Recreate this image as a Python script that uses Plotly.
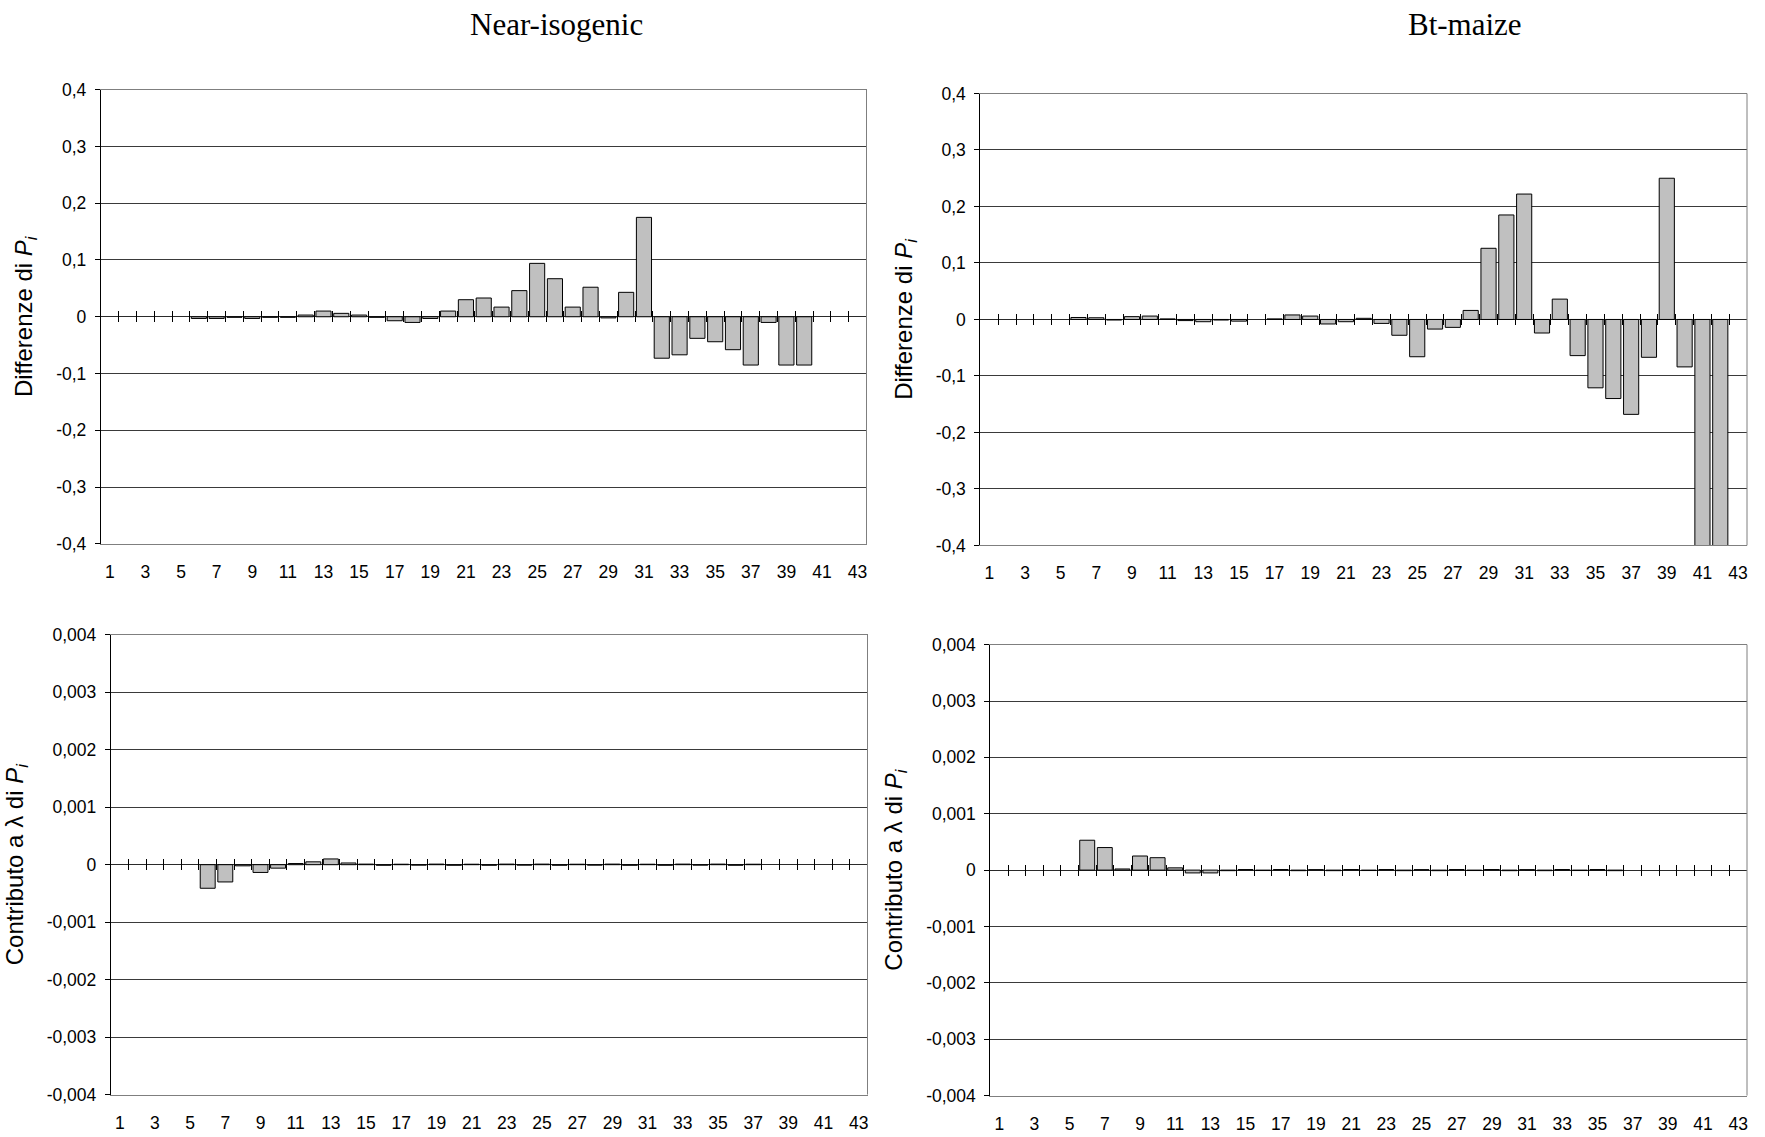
import plotly.graph_objects as go

# ---------------- data ----------------
CATEGORIES = list(range(1, 44))
X_TICK_VALUES = [1, 3, 5, 7, 9, 11, 13, 15, 17, 19, 21, 23, 25, 27, 29, 31, 33, 35, 37, 39, 41, 43]
X_TICK_LABELS = ["1", "3", "5", "7", "9", "11", "13", "15", "17", "19", "21", "23",
                 "25", "27", "29", "31", "33", "35", "37", "39", "41", "43"]

DIFF_TICKS = [-0.4, -0.3, -0.2, -0.1, 0, 0.1, 0.2, 0.3, 0.4]
DIFF_TICK_LABELS = ["-0,4", "-0,3", "-0,2", "-0,1", "0", "0,1", "0,2", "0,3", "0,4"]
CONTRIB_TICKS = [-0.004, -0.003, -0.002, -0.001, 0, 0.001, 0.002, 0.003, 0.004]
CONTRIB_TICK_LABELS = ["-0,004", "-0,003", "-0,002", "-0,001", "0", "0,001", "0,002", "0,003", "0,004"]

# Near-isogenic: differenze di P_i (categories 1..43)
NI_DIFF = [None, None, None, None, None,
           -0.003, -0.003, -0.001, -0.003, -0.001,
           -0.001, 0.003, 0.010, 0.006, 0.003,
           -0.001, -0.007, -0.010, -0.003, 0.010,
           0.030, 0.033, 0.017, 0.046, 0.094,
           0.067, 0.017, 0.052, -0.002, 0.043,
           0.175, -0.073, -0.067, -0.038, -0.044,
           -0.058, -0.085, -0.010, -0.085, -0.085,
           None, None, None]

# Bt-maize: differenze di P_i
BT_DIFF = [None, None, None, None, None,
           0.0035, 0.003, -0.001, 0.005, 0.006,
           0.001, -0.002, -0.004, -0.001, -0.003,
           None, 0.001, 0.008, 0.006, -0.008,
           -0.004, 0.002, -0.007, -0.028, -0.066,
           -0.017, -0.014, 0.016, 0.126, 0.185,
           0.222, -0.024, 0.036, -0.064, -0.121,
           -0.140, -0.168, -0.067, 0.250, -0.084,
           -0.450, -0.450, None]

# Near-isogenic: contributo a lambda di P_i
NI_CONTRIB = [None, None, None, None, None,
              -0.00041, -0.00030, -0.00002, -0.000135, -0.00006,
              0.00002, 0.00005, 0.00010, 0.00003, 0.00001,
              -0.00001, 0.000008, -0.000008, 0.00001, -0.00001,
              0.000008, -0.00001, 0.00001, -0.000008, 0.00001,
              -0.00001, 0.000008, -0.000008, 0.00001, -0.00001,
              0.000008, -0.00001, 0.00001, -0.000008, 0.00001,
              -0.00001, 0.000008, None, None, None,
              None, None, None]

# Bt-maize: contributo a lambda di P_i
BT_CONTRIB = [None, None, None, None, None,
              0.00053, 0.00040, 0.00002, 0.00025, 0.00022,
              0.00004, -0.00005, -0.00005, -0.00001, 0.00001,
              -0.000008, 0.00001, -0.00001, 0.000008, -0.00001,
              0.00001, -0.000008, 0.00001, -0.00001, 0.000008,
              -0.00001, 0.00001, -0.000008, 0.00001, -0.00001,
              0.000008, -0.00001, 0.00001, -0.000008, 0.00001,
              -0.00001, None, None, None, None,
              None, None, None]

COLUMN_TITLES = ["Near-isogenic", "Bt-maize"]
DIFF_TITLE = "Differenze di <i>P<sub>i</sub></i>"
CONTRIB_TITLE = "Contributo a λ di <i>P<sub>i</sub></i>"

# ---------------- figure ----------------
W, H = 1765, 1137
SANS = "Liberation Sans, Arial, sans-serif"
SERIF = "Liberation Serif, Times New Roman, serif"

panels = [
    dict(values=NI_DIFF, ticks=DIFF_TICKS, labels=DIFF_TICK_LABELS, rng=[-0.4, 0.4],
         title=DIFF_TITLE, xd=[101, 867], yd=[81, 543.5]),
    dict(values=BT_DIFF, ticks=DIFF_TICKS, labels=DIFF_TICK_LABELS, rng=[-0.4, 0.4],
         title=DIFF_TITLE, xd=[981, 1748], yd=[85, 545]),
    dict(values=NI_CONTRIB, ticks=CONTRIB_TICKS, labels=CONTRIB_TICK_LABELS, rng=[-0.004, 0.004],
         title=CONTRIB_TITLE, xd=[111, 868], yd=[636, 1104]),
    dict(values=BT_CONTRIB, ticks=CONTRIB_TICKS, labels=CONTRIB_TICK_LABELS, rng=[-0.004, 0.004],
         title=CONTRIB_TITLE, xd=[991, 1748], yd=[646, 1105]),
]


def ax_id(n):
    return "" if n == 1 else str(n)


fig = go.Figure()
layout = dict(
    width=W, height=H,
    margin=dict(l=0, r=0, t=0, b=0),
    paper_bgcolor="white", plot_bgcolor="white",
    showlegend=False, bargap=0.15,
    font=dict(family=SANS, size=17, color="black"),
    shapes=[], annotations=[],
)

for i, p in enumerate(panels, start=1):
    xdom = [p["xd"][0] / W, p["xd"][1] / W]
    ydom = [1 - p["yd"][1] / H, 1 - p["yd"][0] / H]
    xa, ya = "x" + ax_id(i), "y" + ax_id(i)
    tx = "x" + ax_id(i + 4)
    fig.add_trace(go.Bar(
        x=CATEGORIES, y=p["values"], xaxis=xa, yaxis=ya,
        marker=dict(color="#C0C0C0", line=dict(color="black", width=1)),
        hoverinfo="x+y",
    ))
    # invisible helper so the tick-mark axis at y=0 is drawn
    fig.add_trace(go.Scatter(
        x=[str(c) for c in CATEGORIES], y=p["values"], xaxis=tx, yaxis=ya,
        mode="markers", marker=dict(opacity=0, size=1), hoverinfo="skip",
    ))
    layout["xaxis" + ax_id(i)] = dict(
        domain=xdom, anchor=ya, range=[0.5, 43.5], type="linear",
        tickmode="array", tickvals=X_TICK_VALUES, ticktext=X_TICK_LABELS,
        showgrid=False, zeroline=False, showline=True, mirror=True,
        linecolor="#7f7f7f", linewidth=1, ticks="", ticklabelstandoff=12,
        tickfont=dict(family=SANS, size=17.5, color="black"),
    )
    layout["yaxis" + ax_id(i)] = dict(
        domain=ydom, anchor=xa, range=p["rng"],
        tickmode="array", tickvals=p["ticks"], ticktext=p["labels"],
        showgrid=True, gridcolor="#3a3a3a", gridwidth=1,
        zeroline=True, zerolinecolor="#2a2a2a", zerolinewidth=1,
        showline=True, linecolor="black", linewidth=1.3,
        ticks="outside", ticklen=5, tickcolor="black", ticklabelstandoff=5,
        tickfont=dict(family=SANS, size=17.5, color="black"),
        title=dict(text=p["title"], font=dict(family=SANS, size=24, color="black"),
                   standoff=16),
    )
    ymid = (ydom[0] + ydom[1]) / 2
    layout["xaxis" + ax_id(i + 4)] = dict(
        overlaying=xa, anchor="free", position=ymid - 5.5 / H, type="category",
        range=[-0.5, 42.5], tickmode="linear", dtick=1,
        tickson="boundaries", ticks="inside", ticklen=11, tickcolor="black", tickwidth=1,
        showticklabels=False, showgrid=False, zeroline=False, showline=False,
    )
    # grey right border of the plot area
    layout["shapes"].append(dict(
        type="line", xref=xa + " domain", yref=ya + " domain",
        x0=1, x1=1, y0=0, y1=1, line=dict(color="#7f7f7f", width=1),
    ))

for title, xc in zip(COLUMN_TITLES, [557 / W, 1466 / W]):
    layout["annotations"].append(dict(
        text=title, x=xc, y=1 - 15 / H, xref="paper", yref="paper",
        xanchor="center", yanchor="middle", showarrow=False,
        font=dict(family=SERIF, size=31, color="black"),
    ))

fig.update_layout(**layout)
fig.write_html("out.html", config={"displayModeBar": False},
               post_script="document.body.style.margin='0';document.body.style.overflow='hidden';")
